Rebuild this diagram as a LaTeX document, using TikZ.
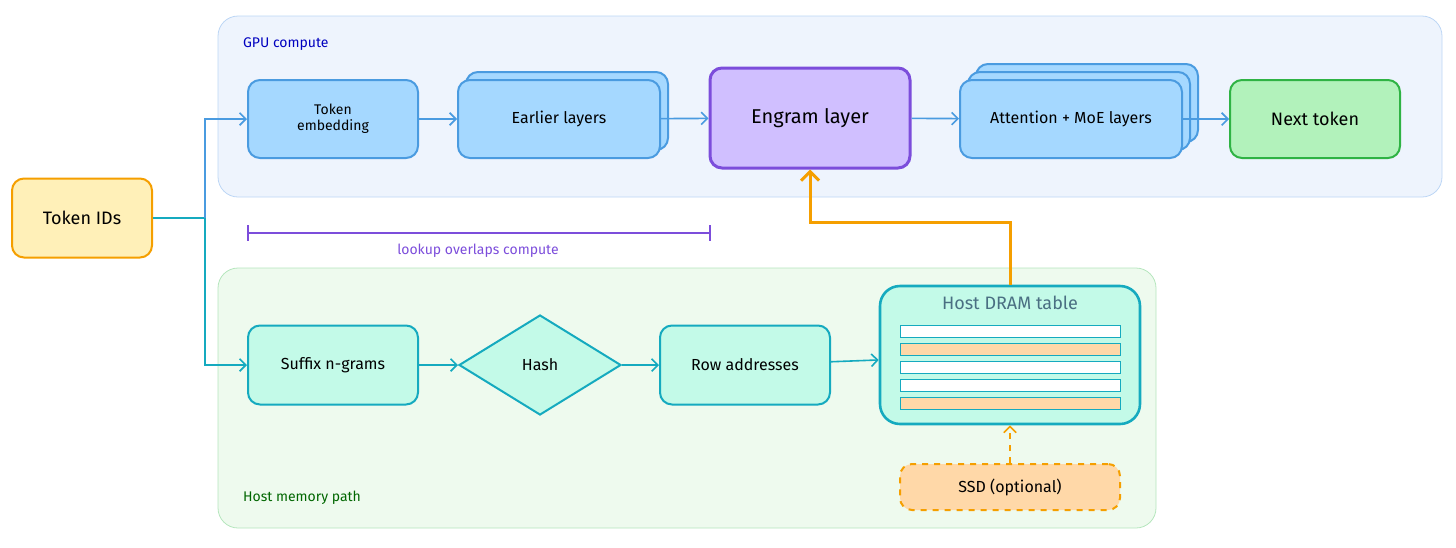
\documentclass[tikz,border=0pt]{standalone}
\usepackage{fontspec}
\setmainfont{Fira Sans}
\usetikzlibrary{arrows.meta,positioning,shapes.geometric,calc}
\definecolor{gpufill}{HTML}{EEF4FD}
\definecolor{gpuline}{HTML}{BCD6F5}
\definecolor{hostfill}{HTML}{EEFAEE}
\definecolor{hostline}{HTML}{B5E6BD}
\definecolor{bluefill}{HTML}{A5D8FF}
\definecolor{blueline}{HTML}{4A9BE0}
\definecolor{purfill}{HTML}{D0BFFF}
\definecolor{purline}{HTML}{7C4DDB}
\definecolor{grnfill}{HTML}{B2F2BB}
\definecolor{grnline}{HTML}{2FB344}
\definecolor{cyfill}{HTML}{C3FAE8}
\definecolor{cyline}{HTML}{15AABF}
\definecolor{yelfill}{HTML}{FFF0B8}
\definecolor{orline}{HTML}{F59F00}
\definecolor{orfill}{HTML}{FFD8A8}
\tikzset{
  >={Straight Barb[]},
  box/.style={rounded corners=6pt, line width=1pt, align=center, font=\footnotesize, inner sep=0pt},
  bluebox/.style={box, draw=blueline, fill=bluefill, minimum width=85pt, minimum height=39pt},
  cybox/.style={box, draw=cyline, fill=cyfill, minimum width=85pt, minimum height=39.5pt},
  flow/.style={->, line width=0.8pt, color=blueline},
  cyflow/.style={->, line width=0.8pt, color=cyline},
  rowbar/.style={draw=cyline, line width=0.5pt, minimum width=110pt, minimum height=6pt, inner sep=0pt},
}
\begin{document}
\begin{tikzpicture}[x=0.5pt, y=-0.5pt]
  \useasboundingbox (0,0) rectangle (1456,547);
  % regions
  \draw[gpuline, fill=gpufill, rounded corners=10pt] (218,16) rectangle (1442,197);
  \node[anchor=west, font=\scriptsize, text=blue!75!black] (gpulbl) at (236,44) {GPU compute};
  \draw[hostline, fill=hostfill, rounded corners=10pt] (218,268) rectangle (1156,528);
  \node[anchor=west, font=\scriptsize, text=green!40!black] (hostlbl) at (236,498) {Host memory path};
  % top row
  \node[box, draw=orline, fill=yelfill, minimum width=70pt, minimum height=39.5pt, font=\small] (ids) at (82,218) {Token IDs};
  \node[bluebox, font=\scriptsize] (embed) at (333,119) {Token\\embedding};
  \node[bluebox, minimum width=101pt] (early2) at (567,111) {};
  \node[bluebox, minimum width=101pt] (early) at (559,119) {Earlier layers};
  \node[box, draw=purline, fill=purfill, line width=1.5pt, minimum width=100pt, minimum height=50pt, font=\normalsize] (engram) at (810,118) {Engram layer};
  \node[bluebox, minimum width=111pt] (attn3) at (1087,103) {};
  \node[bluebox, minimum width=111pt] (attn2) at (1079,111) {};
  \node[bluebox, minimum width=111pt] (attn) at (1071,119) {Attention + MoE layers};
  \node[box, draw=grnline, fill=grnfill, minimum width=85pt, minimum height=39pt, font=\small] (next) at (1315,119) {Next token};
  % bottom row
  \node[cybox] (suffix) at (333,365) {Suffix n-grams};
  \node[diamond, draw=cyline, fill=cyfill, line width=1pt, minimum width=81pt, minimum height=50pt, inner sep=0pt, font=\footnotesize, aspect=1.6] (hash) at (540,365) {Hash};
  \node[cybox] (rows) at (745,365) {Row addresses};
  \node[box, draw=cyline, fill=cyfill, line width=1.3pt, rounded corners=10pt, minimum width=130pt, minimum height=69pt] (table) at (1010,355) {};
  \node[font=\small, text=cyan!45!black] (tabtitle) at (1010,303) {Host DRAM table};
  \foreach \y/\c in {331/white, 349/orfill, 367/white, 385/white, 403/orfill}
    \node[rowbar, fill=\c] at (1010,\y) {};
  \node[box, draw=orline, fill=orfill, dashed, minimum width=110pt, minimum height=23pt] (ssd) at (1010,487) {SSD (optional)};
  % connectors
  \coordinate (split) at (205,218);
  \draw[line width=0.8pt, cyline] (ids.east) -- (split);
  \draw[flow] (split) |- (embed.west);
  \draw[cyflow] (split) |- (suffix.west);
  \draw[flow] (embed) -- (early);
  \draw[flow] (early) -- (engram);
  \draw[flow] (engram) -- (attn);
  \draw[flow] (attn) -- (next);
  \draw[cyflow] (suffix) -- (hash);
  \draw[cyflow] (hash) -- (rows);
  \draw[cyflow] (rows) -- (table);
  \draw[->, orline, line width=1.5pt] (table.north) -- ++(0,-62) -| (engram.south);
  \draw[->, orline, line width=0.8pt, dashed] (ssd) -- (table);
  % overlap bracket
  \coordinate (bl) at (248,233);
  \coordinate (br) at (710,233);
  \draw[purline, line width=0.8pt] (bl) -- (br) ($(bl)+(0,-8)$) -- ($(bl)+(0,8)$) ($(br)+(0,-8)$) -- ($(br)+(0,8)$);
  \node[font=\scriptsize, text=purline] (overlap) at (478,251) {lookup overlaps compute};
\end{tikzpicture}
\end{document}
